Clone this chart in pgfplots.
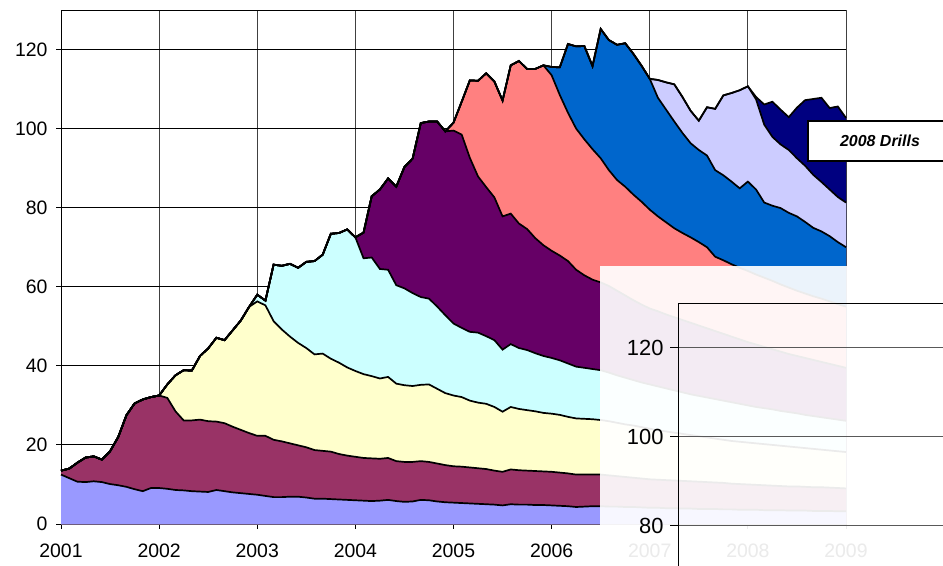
\documentclass[border=0pt]{standalone}
\usepackage{pgfplots}
\usepackage{pgfplotstable}
\pgfplotsset{compat=1.18}
\usepackage{fontspec}
\setmainfont{Liberation Sans}
\definecolor{c1}{HTML}{9999FF}
\definecolor{c2}{HTML}{993366}
\definecolor{c3}{HTML}{FFFFCC}
\definecolor{c4}{HTML}{CCFFFF}
\definecolor{c5}{HTML}{660066}
\definecolor{c6}{HTML}{FF8080}
\definecolor{c7}{HTML}{0066CC}
\definecolor{c8}{HTML}{CCCCFF}
\definecolor{c9}{HTML}{000080}
% cumulative tops of the stacked layers, monthly (m=0 is Jan 2001)
\pgfplotstableread{
m a1 a2 a3 a4 a5 a6 a7 a8 a9
0 12.5 13.5 13.5 13.5 13.5 13.5 13.5 13.5 13.5
1 11.6 14.0 14.0 14.0 14.0 14.0 14.0 14.0 14.0
2 10.7 15.5 15.5 15.5 15.5 15.5 15.5 15.5 15.5
3 10.6 16.8 16.8 16.8 16.8 16.8 16.8 16.8 16.8
4 10.8 17.1 17.1 17.1 17.1 17.1 17.1 17.1 17.1
5 10.6 16.3 16.3 16.3 16.3 16.3 16.3 16.3 16.3
6 10.1 18.4 18.4 18.4 18.4 18.4 18.4 18.4 18.4
7 9.8 22.0 22.0 22.0 22.0 22.0 22.0 22.0 22.0
8 9.4 27.5 27.5 27.5 27.5 27.5 27.5 27.5 27.5
9 8.8 30.5 30.5 30.5 30.5 30.5 30.5 30.5 30.5
10 8.3 31.5 31.5 31.5 31.5 31.5 31.5 31.5 31.5
11 9.1 32.1 32.1 32.1 32.1 32.1 32.1 32.1 32.1
12 9.1 32.5 32.5 32.5 32.5 32.5 32.5 32.5 32.5
13 8.9 31.9 35.3 35.3 35.3 35.3 35.3 35.3 35.3
14 8.6 28.5 37.6 37.6 37.6 37.6 37.6 37.6 37.6
15 8.5 26.2 38.9 38.9 38.9 38.9 38.9 38.9 38.9
16 8.3 26.2 38.8 38.8 38.8 38.8 38.8 38.8 38.8
17 8.2 26.4 42.5 42.5 42.5 42.5 42.5 42.5 42.5
18 8.1 26.0 44.4 44.4 44.4 44.4 44.4 44.4 44.4
19 8.6 25.9 47.1 47.1 47.1 47.1 47.1 47.1 47.1
20 8.3 25.5 46.5 46.5 46.5 46.5 46.5 46.5 46.5
21 8.0 24.6 49.0 49.0 49.0 49.0 49.0 49.0 49.0
22 7.8 23.8 51.5 51.5 51.5 51.5 51.5 51.5 51.5
23 7.6 23.0 54.9 54.9 54.9 54.9 54.9 54.9 54.9
24 7.4 22.3 56.3 58.0 58.0 58.0 58.0 58.0 58.0
25 7.1 22.3 55.3 56.5 56.5 56.5 56.5 56.5 56.5
26 6.8 21.3 51.3 65.6 65.6 65.6 65.6 65.6 65.6
27 6.8 20.9 49.2 65.3 65.3 65.3 65.3 65.3 65.3
28 6.9 20.4 47.4 65.8 65.8 65.8 65.8 65.8 65.8
29 6.9 19.9 45.8 64.8 64.8 64.8 64.8 64.8 64.8
30 6.7 19.4 44.5 66.3 66.3 66.3 66.3 66.3 66.3
31 6.4 18.7 42.9 66.5 66.5 66.5 66.5 66.5 66.5
32 6.4 18.5 43.1 68.1 68.1 68.1 68.1 68.1 68.1
33 6.3 18.3 41.8 73.4 73.4 73.4 73.4 73.4 73.4
34 6.2 17.7 40.8 73.6 73.6 73.6 73.6 73.6 73.6
35 6.1 17.3 39.6 74.5 74.5 74.5 74.5 74.5 74.5
36 6.0 17.0 38.7 72.5 72.5 72.5 72.5 72.5 72.5
37 5.9 16.7 37.9 67.2 73.7 73.7 73.7 73.7 73.7
38 5.8 16.6 37.4 67.4 82.9 82.9 82.9 82.9 82.9
39 5.9 16.5 36.8 64.5 84.6 84.6 84.6 84.6 84.6
40 6.1 16.7 37.2 64.3 87.4 87.4 87.4 87.4 87.4
41 5.8 15.9 35.5 60.4 85.3 85.3 85.3 85.3 85.3
42 5.6 15.7 35.1 59.6 90.3 90.3 90.3 90.3 90.3
43 5.7 15.7 34.9 58.4 92.4 92.4 92.4 92.4 92.4
44 6.1 15.9 35.2 57.4 101.4 101.4 101.4 101.4 101.4
45 6.0 15.7 35.3 57.0 101.8 101.8 101.8 101.8 101.8
46 5.7 15.3 34.2 55.0 101.8 101.8 101.8 101.8 101.8
47 5.5 14.9 33.1 52.8 99.3 99.3 99.3 99.3 99.3
48 5.4 14.6 32.5 50.7 99.5 101.5 101.5 101.5 101.5
49 5.3 14.5 32.1 49.6 98.5 106.8 106.8 106.8 106.8
50 5.2 14.3 31.2 48.6 92.6 112.2 112.2 112.2 112.2
51 5.1 14.1 30.7 48.4 87.9 112.1 112.1 112.1 112.1
52 5.0 13.9 30.4 47.5 85.2 114.0 114.0 114.0 114.0
53 4.9 13.5 29.6 46.5 82.6 111.9 111.9 111.9 111.9
54 4.7 13.2 28.4 44.1 77.8 107.1 107.1 107.1 107.1
55 5.0 13.8 29.6 45.5 78.5 116.0 116.0 116.0 116.0
56 4.9 13.6 29.1 44.5 76.0 117.1 117.1 117.1 117.1
57 4.9 13.5 28.8 44.0 74.6 115.1 115.1 115.1 115.1
58 4.8 13.4 28.5 43.2 72.3 115.1 115.1 115.1 115.1
59 4.8 13.3 28.1 42.5 70.5 116.0 116.0 116.0 116.0
60 4.7 13.2 27.9 42.0 69.1 113.5 115.6 115.6 115.6
61 4.6 13.0 27.6 41.4 67.9 108.5 115.5 115.5 115.5
62 4.5 12.8 27.1 40.6 66.5 104.0 121.4 121.4 121.4
63 4.3 12.5 26.7 39.8 64.3 100.0 120.8 120.8 120.8
64 4.4 12.5 26.6 39.5 62.9 97.3 120.9 120.9 120.9
65 4.5 12.5 26.5 39.2 61.8 94.8 115.8 115.8 115.8
66 4.5 12.5 26.3 38.9 61.1 92.5 125.2 125.2 125.2
67 4.4 12.3 26.0 38.3 60.2 89.5 122.4 122.4 122.4
68 4.4 12.1 25.6 37.6 59.0 87.0 121.2 121.2 121.2
69 4.3 11.9 25.2 37.0 57.8 85.3 121.6 121.6 121.6
70 4.3 11.7 24.9 36.4 56.6 83.3 118.9 118.9 118.9
71 4.2 11.5 24.5 35.8 55.5 81.5 115.9 115.9 115.9
72 4.1 11.3 24.1 35.3 54.5 79.5 112.6 112.6 112.6
73 4.1 11.2 23.7 34.8 53.8 77.8 107.8 112.3 112.3
74 4.0 11.1 23.4 34.3 53.0 76.3 104.8 111.7 111.7
75 4.0 11.0 23.1 33.8 52.3 74.8 101.8 111.2 111.2
76 3.9 10.9 22.8 33.3 51.6 73.6 98.9 108.0 108.0
77 3.9 10.8 22.5 32.8 50.9 72.5 96.3 104.5 104.5
78 3.8 10.7 22.2 32.4 50.2 71.3 94.6 102.0 102.0
79 3.8 10.6 21.9 32.0 49.5 70.0 93.2 105.4 105.4
80 3.8 10.5 21.6 31.6 48.8 67.6 89.5 105.0 105.0
81 3.7 10.4 21.3 31.2 48.1 66.7 88.2 108.4 108.4
82 3.7 10.2 21.0 30.8 47.4 65.7 86.6 109.0 109.0
83 3.6 10.1 20.8 30.4 46.7 64.8 84.9 109.7 109.7
84 3.6 10.0 20.6 30.0 46.0 64.0 86.6 110.7 110.7
85 3.6 9.9 20.4 29.6 45.4 63.1 84.6 107.4 108.0
86 3.5 9.8 20.2 29.3 44.8 62.3 81.3 101.0 106.1
87 3.5 9.7 20.0 29.0 44.2 61.5 80.5 97.9 106.8
88 3.5 9.6 19.8 28.6 43.6 60.6 79.9 96.0 104.8
89 3.4 9.5 19.6 28.3 43.0 59.8 78.7 94.6 102.9
90 3.4 9.5 19.4 28.0 42.5 59.0 77.8 92.5 105.3
91 3.4 9.4 19.2 27.6 42.0 58.3 76.4 90.6 107.2
92 3.3 9.3 19.0 27.3 41.5 57.6 74.9 88.3 107.5
93 3.3 9.3 18.8 27.0 41.0 57.0 74.0 86.5 107.8
94 3.3 9.2 18.6 26.7 40.5 56.3 72.8 84.6 105.2
95 3.2 9.1 18.4 26.4 40.0 55.6 71.3 82.7 105.6
96 3.2 9.0 18.2 26.1 39.5 55.0 70.0 81.3 102.7
}\data
\begin{document}
\begin{tikzpicture}
\useasboundingbox (0bp,0bp) rectangle (943bp,566bp);
\begin{axis}[
  at={(61bp,42bp)}, anchor=origin,
  scale only axis, width=785bp, height=514bp,
  xmin=0, xmax=96, ymin=0, ymax=130,
  axis lines=left,
  axis line style={-, black, line width=1bp},
  xtick={0,12,...,96},
  xticklabels={2001,2002,2003,2004,2005,2006,2007,2008,2009},
  ytick={0,20,...,120},
  extra y ticks={130}, extra y tick labels={},
  extra y tick style={major tick length=0pt, grid style={gray!60, line width=1bp}},
  xmajorgrids, ymajorgrids,
  x grid style={black!75, line width=0.9bp},
  y grid style={black, line width=0.9bp},
  tick align=outside, major tick length=5bp,
  tick style={black, line width=1bp},
  /pgf/number format/assume math mode=true,
  tick label style={font=\fontsize{19.5}{21}\selectfont},
  yticklabel style={xshift=-5bp},
  xticklabel style={yshift=-11bp},
  clip=false,
]
\addplot[fill=c9, draw=none] table[x=m,y=a9]{\data} \closedcycle;
\addplot[fill=c8, draw=none] table[x=m,y=a8]{\data} \closedcycle;
\addplot[fill=c7, draw=none] table[x=m,y=a7]{\data} \closedcycle;
\addplot[fill=c6, draw=none] table[x=m,y=a6]{\data} \closedcycle;
\addplot[fill=c5, draw=none] table[x=m,y=a5]{\data} \closedcycle;
\addplot[fill=c4, draw=none] table[x=m,y=a4]{\data} \closedcycle;
\addplot[fill=c3, draw=none] table[x=m,y=a3]{\data} \closedcycle;
\addplot[fill=c2, draw=none] table[x=m,y=a2]{\data} \closedcycle;
\addplot[fill=c1, draw=none] table[x=m,y=a1]{\data} \closedcycle;
\addplot[black, line width=1.7bp] table[x=m,y=a1]{\data};
\addplot[black, line width=1.7bp] table[x=m,y=a2]{\data};
\addplot[black, line width=1.7bp] table[x=m,y=a3]{\data};
\addplot[black, line width=1.7bp] table[x=m,y=a4]{\data};
\addplot[black, line width=1.7bp] table[x=m,y=a5]{\data};
\addplot[black, line width=1.7bp] table[x=m,y=a6]{\data};
\addplot[black, line width=1.7bp] table[x=m,y=a7]{\data};
\addplot[black, line width=1.7bp] table[x=m,y=a8]{\data};
\addplot[black, line width=1.7bp] table[x=m,y=a9]{\data};
\end{axis}
% translucent white panel
\fill[white, opacity=0.92] (600bp,0bp) rectangle (960bp,300bp);
% partly visible second axis
\begin{axis}[
  at={(678bp,-4bp)}, anchor=south west,
  scale only axis, width=400bp, height=267bp,
  xmin=0, xmax=1, ymin=70, ymax=130,
  axis x line=top, axis y line=left,
  axis line style={-, black, line width=1bp},
  xtick=\empty, ytick={80,100,120},
  ymajorgrids, y grid style={black!65, line width=1bp},
  tick align=outside, major tick length=8bp,
  tick style={black, line width=1bp},
  /pgf/number format/assume math mode=true,
  yticklabel style={font=\fontsize{22}{24}\selectfont, xshift=-3bp},
]
\end{axis}
\draw[fill=white, line width=1.6bp] (808bp,405bp) rectangle (980bp,445bp);
\node[font=\fontsize{16}{18}\selectfont\bfseries\itshape] at (880bp,425bp) {2008 Drills};
\end{tikzpicture}
\end{document}
